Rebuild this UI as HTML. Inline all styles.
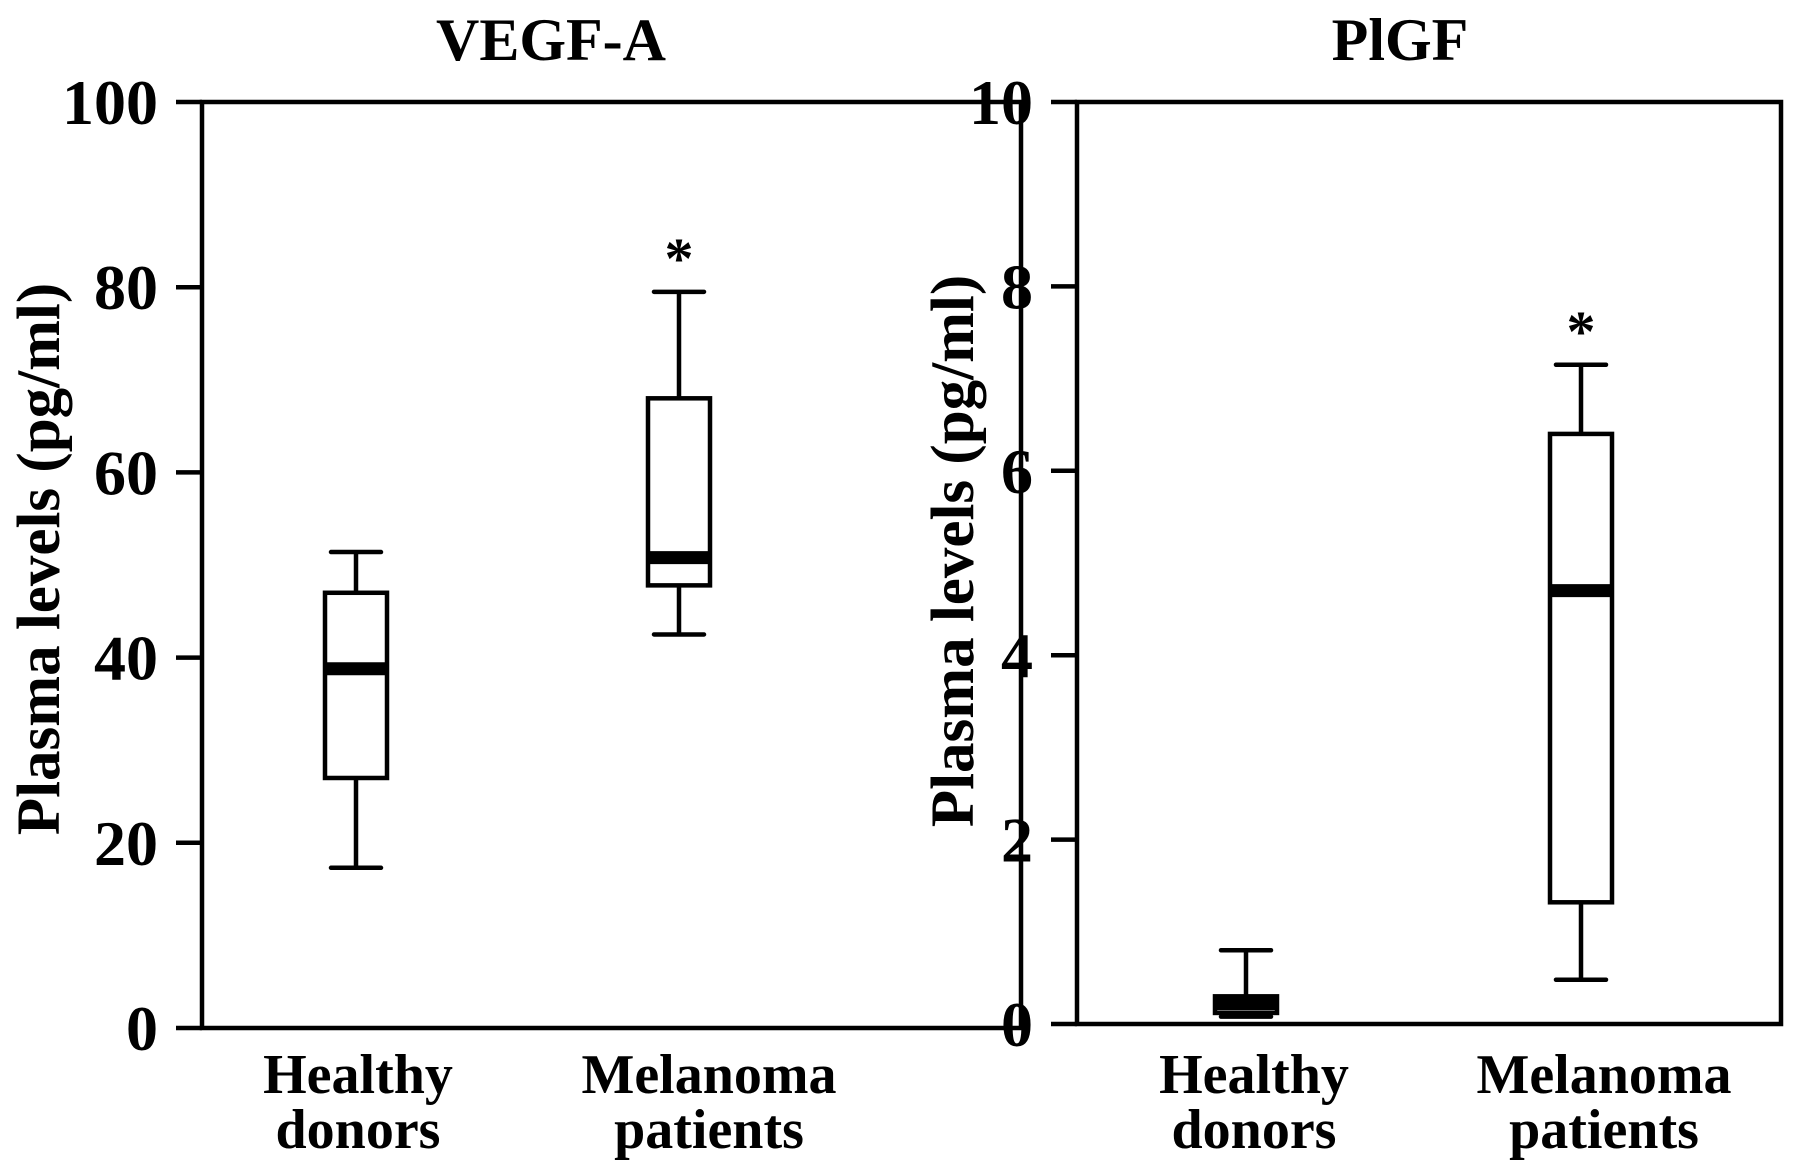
<!DOCTYPE html>
<html><head><meta charset="utf-8"><style>
html,body{margin:0;padding:0;background:#fff;}
svg{display:block;}
text{font-family:"Liberation Serif",serif;font-weight:bold;fill:#000;}
</style></head><body>
<svg id="chart" width="1795" height="1176" viewBox="0 0 1795 1176"></svg>
<script>
const categories = ["Healthy donors", "Melanoma patients"];
const vegfMin = [17.3, 42.5];
const vegfQ1 = [27.0, 47.8];
const vegfMedian = [38.8, 50.8];
const vegfQ3 = [47.0, 68.0];
const vegfMax = [51.4, 79.5];
const vegfTicks = [0, 20, 40, 60, 80, 100];
const plgfMin = [0.08, 0.48];
const plgfQ1 = [0.12, 1.32];
const plgfMedian = [0.22, 4.7];
const plgfQ3 = [0.30, 6.4];
const plgfMax = [0.80, 7.15];
const plgfTicks = [0, 2, 4, 6, 8, 10];
const significance = ["", "*"];

const NS = "http://www.w3.org/2000/svg";
const svg = document.getElementById("chart");
function mk(tag, attrs, parent) {
  const e = document.createElementNS(NS, tag);
  for (const k in attrs) e.setAttribute(k, attrs[k]);
  (parent || svg).appendChild(e);
  return e;
}

function panel(cfg) {
  const g = mk("g", {});
  
  
  const y = v => cfg.y0 - (v - cfg.vmin) / (cfg.vmax - cfg.vmin) * (cfg.y0 - cfg.y1);
  const title = mk("text", {x: cfg.tx, y: 60, "font-size": 60, "text-anchor": "middle"}, g);
  title.textContent = cfg.title;
  
  
  const frame = mk("rect", {x: cfg.x0, y: cfg.y1, width: cfg.x1 - cfg.x0, height: cfg.y0 - cfg.y1, fill: "none", stroke: "#000", "stroke-width": 4.5}, g);
  
  
  cfg.ticks.forEach(t => {
    const tk = mk("line", {x1: cfg.x0 - 26, x2: cfg.x0, y1: y(t), y2: y(t), stroke: "#000", "stroke-width": 4.5}, g);
    
    
    const lb = mk("text", {x: cfg.x0 - 44, y: y(t) + 22, "font-size": 64, "text-anchor": "end"}, g);
    lb.textContent = t;
    
    
  });
  const yt = mk("text", {x: 0, y: 0, "font-size": 61, "text-anchor": "middle", transform: `translate(${cfg.ytx},${cfg.yty}) rotate(-90)`}, g);
  yt.textContent = "Plasma levels (pg/ml)";
  
  
  categories.forEach((c, i) => {
    const cx = cfg.cx[i], hw = 31, cw = 25;
    const bg = mk("g", {}, g);
    
    
    mk("line", {x1: cx, x2: cx, y1: y(cfg.max[i]), y2: y(cfg.q3[i]), stroke: "#000", "stroke-width": 4.5}, bg);
    mk("line", {x1: cx, x2: cx, y1: y(cfg.q1[i]), y2: y(cfg.min[i]), stroke: "#000", "stroke-width": 4.5}, bg);
    mk("line", {x1: cx - cw, x2: cx + cw, y1: y(cfg.max[i]), y2: y(cfg.max[i]), stroke: "#000", "stroke-width": 4.5, "stroke-linecap": "round"}, bg);
    mk("line", {x1: cx - cw, x2: cx + cw, y1: y(cfg.min[i]), y2: y(cfg.min[i]), stroke: "#000", "stroke-width": 4.5, "stroke-linecap": "round"}, bg);
    mk("rect", {x: cx - hw, y: y(cfg.q3[i]), width: 2 * hw, height: Math.max(1, y(cfg.q1[i]) - y(cfg.q3[i])), fill: "#fff", stroke: "#000", "stroke-width": 4.5}, bg);
    mk("line", {x1: cx - hw, x2: cx + hw, y1: y(cfg.med[i]), y2: y(cfg.med[i]), stroke: "#000", "stroke-width": 13}, bg);
    if (significance[i]) {
      const s = mk("text", {x: cx, y: y(cfg.max[i]) - 14, "font-size": 58, "text-anchor": "middle"}, bg);
      s.textContent = significance[i];
      
      
    }
    const words = c.split(" ");
    words.forEach((w, j) => {
      const xl = mk("text", {x: cfg.lx[i], y: 1093 + j * 55, "font-size": 56, "text-anchor": "middle"}, g);
      xl.textContent = w;
      
      
    });
  });
}

panel({name: "vegf", title: "VEGF-A", tx: 551, x0: 202, x1: 1021, y0: 1028, y1: 102, vmin: 0, vmax: 100, ticks: vegfTicks, ytx: 59, yty: 559,
  cx: [356, 679], lx: [358, 709], min: vegfMin, q1: vegfQ1, med: vegfMedian, q3: vegfQ3, max: vegfMax});
panel({name: "plgf", title: "PlGF", tx: 1400, x0: 1077, x1: 1781, y0: 1024, y1: 102, vmin: 0, vmax: 10, ticks: plgfTicks, ytx: 973, yty: 551,
  cx: [1246, 1581], lx: [1254, 1604], min: plgfMin, q1: plgfQ1, med: plgfMedian, q3: plgfQ3, max: plgfMax});
</script>
</body></html>
